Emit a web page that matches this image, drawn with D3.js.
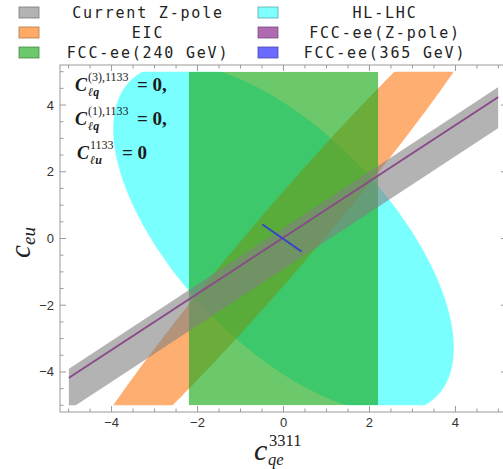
<!DOCTYPE html>
<html><head><meta charset="utf-8">
<script src="https://cdn.jsdelivr.net/npm/d3@7"></script>
<style>html,body{margin:0;padding:0;background:#fff;}svg{display:block;}</style>
</head><body>
<svg id="chart" width="503" height="469"></svg>
<script>
// ---------- data ----------
const xTicks = [-4, -2, 0, 2, 4];
const yTicks = [-4, -2, 0, 2, 4];
const legendLabels = ["Current Z-pole", "HL-LHC", "EIC", "FCC-ee(Z-pole)", "FCC-ee(240 GeV)", "FCC-ee(365 GeV)"];
// Current Z-pole band: upper and lower edges (x, y) at x = -5 and x = 5
const zpoleUpperEdge = [[-5, -3.91], [5, 4.54]];
const zpoleLowerEdge = [[-5, -5.14], [5, 3.31]];
// HL-LHC ellipse: semi-major, semi-minor, angle (deg)
const hlLhcEllipse = [5.98, 2.70, -57.1];
// EIC elongated ellipse: semi-major, semi-minor, angle (deg)
const eicEllipse = [8.75, 0.79, 56.5];
// FCC-ee 240 GeV band in c_qe
const fcc240Range = [-2.2, 2.2];
// FCC-ee Z-pole line and 365 GeV segment
const fccZpoleLine = [[-5, -4.18], [5, 4.24]];
const fcc365Line = [[-0.49, 0.42], [0.42, -0.39]];
const dataBox = [-5, 5];

// ---------- layout ----------
const svg = d3.select("#chart");
const x = d3.scaleLinear().domain([-5.2, 5.2]).range([60, 507]);
const y = d3.scaleLinear().domain([-5.2, 5.2]).range([412, 65]);

svg.append("defs").append("clipPath").attr("id", "dclip")
  .append("rect")
  .attr("x", x(dataBox[0])).attr("y", y(dataBox[1]))
  .attr("width", x(dataBox[1]) - x(dataBox[0]))
  .attr("height", y(dataBox[0]) - y(dataBox[1]));

const g = svg.append("g").attr("clip-path", "url(#dclip)");
const line = d3.line().x(d => x(d[0])).y(d => y(d[1]));

function ellipsePts(p) {
  const [a, b, deg] = p, th = deg * Math.PI / 180;
  return d3.range(0, 360, 1).map(t => {
    const r = t * Math.PI / 180, u = a * Math.cos(r), v = b * Math.sin(r);
    return [u * Math.cos(th) - v * Math.sin(th), u * Math.sin(th) + v * Math.cos(th)];
  });
}

// HL-LHC
g.append("path").attr("d", line(ellipsePts(hlLhcEllipse)) + "Z")
  .attr("fill", "#00ffff").attr("fill-opacity", 0.52);
// EIC
g.append("path").attr("d", line(ellipsePts(eicEllipse)) + "Z")
  .attr("fill", "rgb(255,120,20)").attr("fill-opacity", 0.6);
// FCC-ee 240
g.append("path").attr("d", line([[fcc240Range[0], dataBox[0]], [fcc240Range[1], dataBox[0]], [fcc240Range[1], dataBox[1]], [fcc240Range[0], dataBox[1]]]) + "Z")
  .attr("fill", "rgb(28,170,28)").attr("fill-opacity", 0.65);
// Current Z-pole
g.append("path").attr("d", line(zpoleUpperEdge.concat(zpoleLowerEdge.slice().reverse())) + "Z")
  .attr("fill", "#808080").attr("fill-opacity", 0.6);
// FCC-ee Z-pole
g.append("path").attr("d", line(fccZpoleLine)).attr("stroke", "#8a4a8a").attr("stroke-width", 2).attr("fill", "none");
// FCC-ee 365
g.append("path").attr("d", line(fcc365Line)).attr("stroke", "#3344cc").attr("stroke-width", 2).attr("fill", "none");

// ---------- frame and ticks ----------
const frameCol = "#9a9a9a";
svg.append("rect").attr("x", 60).attr("y", 65).attr("width", 447).attr("height", 347)
  .attr("fill", "none").attr("stroke", frameCol).attr("stroke-width", 1);

const minor = d3.range(-5, 5.01, 0.5);
const tk = svg.append("g").attr("stroke", frameCol).attr("stroke-width", 1);
minor.forEach(v => {
  const isMaj = Math.abs(v % 2) < 1e-9;
  const L = isMaj ? 6 : 3.5;
  tk.append("line").attr("x1", x(v)).attr("x2", x(v)).attr("y1", 412).attr("y2", 412 - L);
  tk.append("line").attr("x1", x(v)).attr("x2", x(v)).attr("y1", 65).attr("y2", 65 + L);
  tk.append("line").attr("y1", y(v)).attr("y2", y(v)).attr("x1", 60).attr("x2", 60 + L);
  tk.append("line").attr("y1", y(v)).attr("y2", y(v)).attr("x1", 507).attr("x2", 507 - L);
});
const fmt = v => (v < 0 ? "\u2212" : "") + Math.abs(v);
svg.append("g").selectAll("text").data(xTicks).join("text")
  .attr("x", d => x(d)).attr("y", 427).attr("text-anchor", "middle")
  .attr("font-family", "Liberation Sans, Arial, sans-serif").attr("font-size", 13).attr("fill", "#333")
  .text(fmt);
svg.append("g").selectAll("text").data(yTicks).join("text")
  .attr("x", 54).attr("y", d => y(d) + 4.5).attr("text-anchor", "end")
  .attr("font-family", "Liberation Sans, Arial, sans-serif").attr("font-size", 13).attr("fill", "#333")
  .text(fmt);

// ---------- axis titles ----------
const serif = "Liberation Serif, Times New Roman, serif";
const xl = svg.append("g").attr("font-family", serif).attr("fill", "#222");
xl.append("text").attr("x", 254).attr("y", 460).attr("font-size", 30).attr("font-style", "italic").text("c");
xl.append("text").attr("x", 269).attr("y", 446).attr("font-size", 16.5).text("3311");
xl.append("text").attr("x", 268).attr("y", 465).attr("font-size", 16.5).attr("font-style", "italic").text("qe");

const yl = svg.append("g").attr("font-family", serif).attr("fill", "#222")
  .attr("transform", "translate(30,258) rotate(-90)");
yl.append("text").attr("x", 0).attr("y", 0).attr("font-size", 29).attr("font-style", "italic").text("c");
yl.append("text").attr("x", 13).attr("y", 5).attr("font-size", 19).attr("font-style", "italic").text("eu");

// ---------- annotation ----------
const an = svg.append("g").attr("font-family", serif).attr("fill", "#1a1a1a").attr("font-weight", "bold");
const annRows = [
  {base: 91, cx: 75, sup: "(3),1133", sub: "\u2113q", eqx: 137, eq: "= 0,"},
  {base: 125, cx: 75, sup: "(1),1133", sub: "\u2113q", eqx: 137, eq: "= 0,"},
  {base: 159, cx: 77, sup: "1133", sub: "\u2113u", eqx: 122, eq: "= 0"}
];
annRows.forEach(r => {
  an.append("text").attr("x", r.cx).attr("y", r.base).attr("font-size", 18).attr("font-style", "italic").text("C");
  an.append("text").attr("x", r.cx + 13).attr("y", r.base - 10).attr("font-size", 12).attr("font-weight", "normal").text(r.sup);
  an.append("text").attr("x", r.cx + 13).attr("y", r.base + 5).attr("font-size", 12).attr("font-style", "italic").text(r.sub);
  an.append("text").attr("x", r.eqx).attr("y", r.base).attr("font-size", 19).text(r.eq);
});

// ---------- legend ----------
const legFill = ["#b3b3b3", "#80ffff", "#ffaa66", "#b06ab0", "#6cc86c", "#6a6aff"];
const legStroke = ["#7a7a7a", "#5aaaaa", "#b07a4a", "#7a4a7a", "#4a8a4a", "#4a4ab0"];
const leg = svg.append("g");
legendLabels.forEach((lab, i) => {
  const col = i % 2, row = Math.floor(i / 2);
  const sx = col === 0 ? 19 : 258, cy = 12.5 + row * 20;
  leg.append("rect").attr("x", sx).attr("y", cy - 5.5).attr("width", 20).attr("height", 11)
    .attr("fill", legFill[i]).attr("stroke", legStroke[i]).attr("stroke-width", 0.8);
  leg.append("text").attr("x", col === 0 ? 148 : 385).attr("y", cy + 5)
    .attr("text-anchor", "middle").attr("font-family", "DejaVu Sans Mono, monospace")
    .attr("font-size", 15).attr("letter-spacing", 1.8).attr("fill", "#222").text(lab);
});
</script>
</body></html>
